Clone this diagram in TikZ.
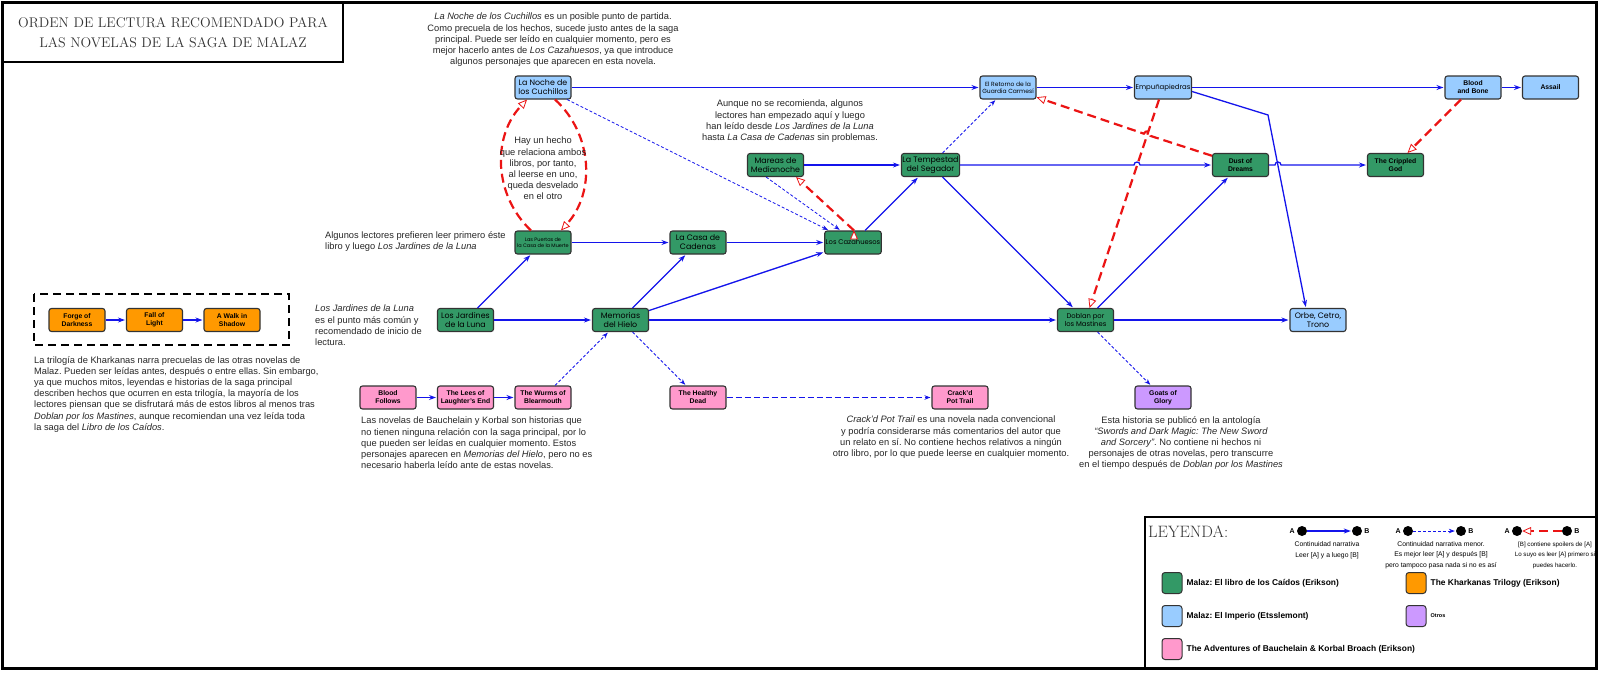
\documentclass[tikz,border=0pt]{standalone}
\usepackage{fontspec}
\setmainfont{Liberation Sans}
\newfontfamily\bookfont{Poppins}
\newfontfamily\titlefont{Latin Modern Roman}
\usetikzlibrary{positioning,arrows.meta}
\frenchspacing

\definecolor{caidosfill}{RGB}{51,153,102}
\definecolor{imperiofill}{RGB}{153,204,255}
\definecolor{kharkanasfill}{RGB}{255,153,0}
\definecolor{bauchelainfill}{RGB}{255,153,204}
\definecolor{otrosfill}{RGB}{204,153,255}
\definecolor{linkblue}{RGB}{20,20,235}
\definecolor{spoilred}{RGB}{235,20,20}

\begin{document}
\begin{tikzpicture}[x=1pt, y=-1pt, node distance=77.5pt,
        book/.style={rectangle, draw=black!80, line width=1.1pt, rounded corners=2.5pt,
            minimum width=56pt, minimum height=23pt, inner sep=1pt, align=center},
        caidos/.style={book, fill=caidosfill, font=\bookfont\fontsize{7.9}{9}\selectfont},
        imperio/.style={book, fill=imperiofill, font=\bookfont\fontsize{7.9}{9}\selectfont},
        erikson/.style={font=\bfseries\fontsize{6.8}{8}\selectfont},
        kharkanas/.style={book, fill=kharkanasfill, erikson},
        bauchelain/.style={book, fill=bauchelainfill, erikson},
        otros/.style={book, fill=otrosfill, erikson},
        note/.style={inner sep=0pt, align=center, text=black!85, font=\fontsize{9.3}{11.2}\selectfont},
        main/.style={draw=linkblue, line width=1.3pt, shorten >=1pt, -{Stealth[length=7pt, width=5pt]}},
        minor/.style={draw=linkblue, line width=0.8pt, shorten >=1pt, dash pattern=on 3pt off 2pt, -{Stealth[length=6pt, width=4.5pt]}},
        spoiler/.style={draw=spoilred, line width=2.2pt, dash pattern=on 9pt off 5pt, -{Triangle[length=9pt, width=8pt, line width=0.8pt, fill=white]}},
        dot/.style={circle, fill=black, minimum size=10pt, inner sep=0pt},
        swatch/.style={draw=black!80, line width=1pt, rounded corners=3pt, minimum width=20pt, minimum height=21pt, inner sep=0pt},
        legtext/.style={inner sep=0pt, align=center, font=\fontsize{6.8}{10.5}\selectfont},
        legab/.style={inner sep=0pt, font=\bfseries\fontsize{7}{8}\selectfont},
        legitem/.style={inner sep=0pt, anchor=west, font=\bfseries\fontsize{8.4}{10}\selectfont},
    ]
    \useasboundingbox (0,0) rectangle (1600,672);

    % marco y titulo
    \draw [line width=2.5pt] (2.5,2.5) rectangle (1596.5,668.5);
    \node [draw, line width=2.2pt, fill=white, minimum width=340pt, minimum height=59pt, align=center,
        text=black!80, font=\titlefont\fontsize{14}{20}\selectfont](titulo) at (173,32.5)
        {ORDEN DE LECTURA RECOMENDADO PARA\\LAS NOVELAS DE LA SAGA DE MALAZ};

    % libros
    \node [caidos](jardines) at (465.5,320) {Los Jardines\\de la Luna};
    \node [caidos](memorias) [right of = jardines, xshift = 77.5, ]{Memorias\\del Hielo};
    \node [caidos, font=\bookfont\fontsize{5}{6}\selectfont](puertas) [above of = jardines, xshift = 77.5, ]{Las Puertas de\\la Casa de la Muerte};
    \node [imperio](noche) [above of = puertas, yshift = 77.5, ]{La Noche de\\los Cuchillos};
    \node [caidos](casa) [right of = puertas, xshift = 77.5, ]{La Casa de\\Cadenas};
    \node [caidos, font=\bookfont\fontsize{6.8}{7.5}\selectfont](cazahuesos) [right of = casa, xshift = 77.5, ]{Los Cazahuesos};
    \node [caidos](mareas) [above of = casa, xshift = 77.5, ]{Mareas de\\Medianoche};
    \node [caidos](tempestad) [right of = mareas, xshift = 77.5, ]{La Tempestad\\del Segador};
    \node [imperio, font=\bookfont\fontsize{6}{7.2}\selectfont](retorno) [above of = tempestad, xshift = 77.5, ]{El Retorno de la\\Guardia Carmesí};
    \node [imperio, font=\bookfont\fontsize{6.9}{7.5}\selectfont](empuna) [right of = retorno, xshift = 77.5, ]{Empuñapiedras};
    \node [caidos, erikson](dust) [below of = empuna, xshift = 77.5, ]{Dust of\\Dreams};
    \node [caidos, erikson](crippled) [right of = dust, xshift = 77.5, ]{The Crippled\\God};
    \node [imperio, erikson](bloodbone) [above of = crippled, xshift = 77.5, ]{Blood\\and Bone};
    \node [imperio, erikson](assail) [right of = bloodbone]{Assail};
    \node [caidos, font=\bookfont\fontsize{6.8}{8.2}\selectfont](doblan) [right of = memorias, xshift = 387.5, ]{Doblan por\\los Mastines};
    \node [imperio](orbe) [right of = doblan, xshift = 155, ]{Orbe, Cetro,\\Trono};

    \node [bauchelain](wurms) [below of = memorias, xshift = -77.5, ]{The Wurms of\\Blearmouth};
    \node [bauchelain](lees) [left of = wurms]{The Lees of\\Laughter's End};
    \node [bauchelain](bloodfollows) [left of = lees]{Blood\\Follows};
    \node [bauchelain](healthy) [below of = memorias, xshift = 77.5, ]{The Healthy\\Dead};
    \node [bauchelain](crackd) [right of = healthy, xshift = 184.5, ]{Crack'd\\Pot Trail};
    \node [otros](goats) [below of = doblan, xshift = 77.5, ]{Goats of\\Glory};

    \node [kharkanas](forge) at (77,320) {Forge of\\Darkness};
    \node [kharkanas](fall) [right of = forge]{Fall of\\Light};
    \node [kharkanas](walk) [right of = fall]{A Walk in\\Shadow};
    \draw [line width=1.8pt, dash pattern=on 8pt off 5pt] (34,294) rectangle (289,345);

    % conexiones
    \path[main]
        (noche) edge (retorno)
        (retorno) edge (empuna)
        (empuna) edge (bloodbone)
        (bloodbone) edge (assail)
        (mareas) edge (tempestad)
        (jardines) edge (puertas)
        (puertas) edge (casa)
        (casa) edge (cazahuesos)
        (cazahuesos) edge (tempestad)
        (jardines) edge (memorias)
        (memorias) edge (casa)
        (memorias) edge (cazahuesos)
        (memorias) edge (doblan)
        (tempestad) edge (doblan)
        (doblan) edge (dust)
        (doblan) edge (orbe)
        (forge) edge (fall)
        (fall) edge (walk)
        (bloodfollows) edge (lees)
        (lees) edge (wurms)
    ;
    % saltos en los cruces
    \coordinate (salto1) at (1134,165);
    \coordinate (salto2) at (1275,165);
    \coordinate (salto3) at (1150.5,135.9);
    \coordinate (codo) at (1268,115);
    \draw[main] (tempestad.east) -- (salto1) arc[start angle=180, end angle=0, radius=3pt] -- (dust.west);
    \draw[main] (dust.east) -- (salto2) arc[start angle=180, end angle=0, radius=3pt] -- (crippled.west);
    \draw[main] ([yshift=-4pt]empuna.east) -- (codo) -- ([xshift=-12pt]orbe.north);

    \path[minor]
        (noche) edge (cazahuesos)
        (tempestad) edge (retorno)
        (wurms) edge (memorias)
        (memorias) edge (healthy)
        (doblan) edge (goats)
        (healthy) edge [dash pattern=on 6pt off 3pt, line width=1.1pt] (crackd)
    ;
    \draw[minor] (mareas.232) -- (cazahuesos.136);

    \path[spoiler]
        ([xshift=-12pt]puertas.north) edge [bend left = 45] ([xshift=-16pt]noche.south)
        ([xshift=12pt]noche.south) edge [bend left = 45] ([xshift=18pt]puertas.north)
        ([xshift=1pt]cazahuesos.north) edge ([xshift=-8pt]mareas.south east)
        (empuna) edge (doblan)
        (bloodbone) edge (crippled)
    ;
    \draw[spoiler] (dust) -- (salto3) arc[start angle=-18.6, end angle=161.4, radius=3.5pt] -- (retorno);

    % notas
    \node [note, anchor=north](nnoche) at (553,13) {\textit{La Noche de los Cuchillos} es un posible punto de partida.\\Como precuela de los hechos, sucede justo antes de la saga\\principal. Puede ser leído en cualquier momento, pero es\\mejor hacerlo antes de \textit{Los Cazahuesos}, ya que introduce\\algunos personajes que aparecen en esta novela.};
    \node [note, anchor=north](nhecho) at (543,137) {Hay un hecho\\que relaciona ambos\\libros, por tanto,\\al leerse en uno,\\queda desvelado\\en el otro};
    \node [note, anchor=north west, align=left](npuertas) at (325,231) {Algunos lectores prefieren leer primero éste\\libro y luego \textit{Los Jardines de la Luna}};
    \node [note, anchor=north](nmareas) at (790,100) {Aunque no se recomienda, algunos\\lectores han empezado aquí y luego\\han leído desde \textit{Los Jardines de la Luna}\\hasta \textit{La Casa de Cadenas} sin problemas.};
    \node [note, anchor=north west, align=left](njardines) at (315,305) {\textit{Los Jardines de la Luna}\\es el punto más común y\\recomendado de inicio de\\lectura.};
    \node [note, anchor=north west, align=left](nkharkanas) at (34,356) {La trilogía de Kharkanas narra precuelas de las otras novelas de\\Malaz. Pueden ser leídas antes, después o entre ellas. Sin embargo,\\ya que muchos mitos, leyendas e historias de la saga principal\\describen hechos que ocurren en esta trilogía, la mayoría de los\\lectores piensan que se disfrutará más de estos libros al menos tras\\\textit{Doblan por los Mastines}, aunque recomiendan una vez leída toda\\la saga del \textit{Libro de los Caídos}.};
    \node [note, anchor=north west, align=left](nbauchelain) at (361,417) {Las novelas de Bauchelain y Korbal son historias que\\no tienen ninguna relación con la saga principal, por lo\\que pueden ser leídas en cualquier momento. Estos\\personajes aparecen en \textit{Memorias del Hielo}, pero no es\\necesario haberla leído ante de estas novelas.};
    \node [note, anchor=north](ncrackd) at (951,416) {\textit{Crack'd Pot Trail} es una novela nada convencional\\y podría considerarse más comentarios del autor que\\un relato en sí. No contiene hechos relativos a ningún\\otro libro, por lo que puede leerse en cualquier momento.};
    \node [note, anchor=north](ngoats) at (1181,416) {Esta historia se publicó en la antología\\\textit{“Swords and Dark Magic: The New Sword}\\\textit{and Sorcery”}. No contiene ni hechos ni\\personajes de otras novelas, pero transcurre\\en el tiempo después de \textit{Doblan por los Mastines}};

    % leyenda
    \draw [line width=2pt] (1145,517) rectangle (1596.5,668.5);
    \begin{scope}
        \clip (1146,518) rectangle (1595,667);
        \node [anchor=west, inner sep=0pt, text=black!80, font=\titlefont\fontsize{16.5}{16.5}\selectfont](leyenda) at (1148,532) {LEYENDA:};

        \node [dot](a1) at (1302,531) {};
        \node [dot](b1) at (1357,531) {};
        \node [legab, left = 2pt of a1]{A};
        \node [legab, right = 2pt of b1]{B};
        \path (a1) edge [main] (b1);
        \node [legtext](t1) at (1327,550) {Continuidad narrativa\\Leer [A] y a luego [B]};

        \node [dot](a2) at (1408,531) {};
        \node [dot](b2) at (1461,531) {};
        \node [legab, left = 2pt of a2]{A};
        \node [legab, right = 2pt of b2]{B};
        \path (a2) edge [minor] (b2);
        \node [legtext](t2) at (1441,555) {Continuidad narrativa menor.\\Es mejor leer [A] y después [B]\\pero tampoco pasa nada si no es así};

        \node [dot](a3) at (1517,531) {};
        \node [dot](b3) at (1567,531) {};
        \node [legab, left = 2pt of a3]{A};
        \node [legab, right = 2pt of b3]{B};
        \path (b3) edge [spoiler] (a3);
        \node [legtext, font=\fontsize{6.2}{10.5}\selectfont](t3) at (1555,555) {[B] contiene spoilers de [A]\\Lo suyo es leer [A] primero si\\puedes hacerlo.};

        \node [swatch, fill=caidosfill](s1) at (1172,583) {};
        \node [legitem, right = 4pt of s1]{Malaz: El libro de los Caídos (Erikson)};
        \node [swatch, fill=kharkanasfill](s2) at (1416,583) {};
        \node [legitem, right = 4pt of s2]{The Kharkanas Trilogy (Erikson)};
        \node [swatch, fill=imperiofill](s3) at (1172,616) {};
        \node [legitem, right = 4pt of s3]{Malaz: El Imperio (Etsslemont)};
        \node [swatch, fill=otrosfill](s4) at (1416,616) {};
        \node [legitem, font=\bfseries\fontsize{5.5}{6}\selectfont, right = 4pt of s4]{Otros};
        \node [swatch, fill=bauchelainfill](s5) at (1172,649) {};
        \node [legitem, right = 4pt of s5]{The Adventures of Bauchelain \& Korbal Broach (Erikson)};
    \end{scope}
\end{tikzpicture}
\end{document}
